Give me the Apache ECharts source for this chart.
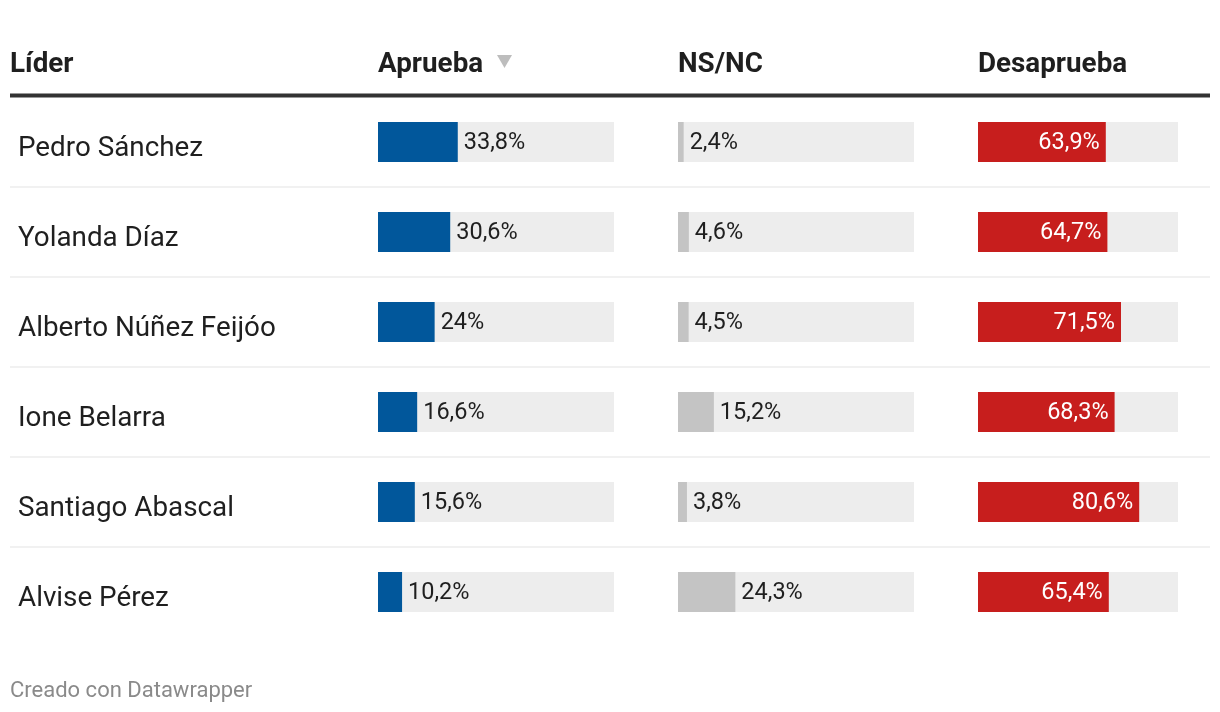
<!DOCTYPE html>
<html>
<head>
<meta charset="utf-8">
<script src="https://cdn.jsdelivr.net/npm/echarts@6/dist/echarts.min.js"></script>
<style>
html,body{margin:0;padding:0;background:#fff;}
#chart{width:1220px;height:712px;}
</style>
</head>
<body>
<div id="chart"></div>
<script>
const leaders = ['Pedro Sánchez', 'Yolanda Díaz', 'Alberto Núñez Feijóo', 'Ione Belarra', 'Santiago Abascal', 'Alvise Pérez'];
const aprueba = [33.8, 30.6, 24, 16.6, 15.6, 10.2];
const nsnc = [2.4, 4.6, 4.5, 15.2, 3.8, 24.3];
const desaprueba = [63.9, 64.7, 71.5, 68.3, 80.6, 65.4];
const headers = ['Líder', 'Aprueba', 'NS/NC', 'Desaprueba'];
const footer = 'Creado con Datawrapper';

const FONT = 'Roboto, "Noto Sans", sans-serif';
const fmt = p => String(p.value).replace('.', ',') + '%';

const chart = echarts.init(document.getElementById('chart'), null, {renderer: 'canvas'});

const colLeft = [378, 678, 978];
const colWidth = [236, 236, 200];
const TOP = 97, HEIGHT = 540;

const grids = colLeft.map((l, i) => ({left: l, top: TOP, width: colWidth[i], height: HEIGHT}));
grids.push({left: 10, top: TOP, width: 1200, height: HEIGHT});       // separators
grids.push({left: 10, top: TOP + 7.5, width: 1200, height: HEIGHT}); // leader names

const xAxes = grids.map((g, i) => ({gridIndex: i, type: 'value', min: 0, max: 100, show: false}));
const yAxes = [0, 1, 2].map(i => ({gridIndex: i, type: 'category', data: leaders, inverse: true, show: false}));
yAxes.push({
  gridIndex: 3, type: 'category', data: leaders, inverse: true,
  axisLine: {show: false}, axisTick: {show: false}, axisLabel: {show: false},
  splitLine: {show: true, showMinLine: false, showMaxLine: false, lineStyle: {color: '#ececec', width: 1.5}}
});
yAxes.push({
  gridIndex: 4, type: 'category', data: leaders, inverse: true,
  axisLine: {show: false}, axisTick: {show: false}, splitLine: {show: false},
  axisLabel: {inside: true, margin: 8, fontSize: 27.8, color: '#1f1f1f', fontFamily: FONT}
});

const colors = ['#01579b', '#c4c4c4', '#c71e1d'];
const datas = [aprueba, nsnc, desaprueba];
const series = datas.map((d, i) => ({
  type: 'bar', xAxisIndex: i, yAxisIndex: i, data: d, barWidth: 40,
  itemStyle: {color: colors[i]},
  showBackground: true, backgroundStyle: {color: '#ededed'},
  label: {
    show: true,
    position: i === 2 ? 'insideRight' : 'right',
    distance: 6,
    offset: [0, 1.5],
    formatter: fmt,
    fontSize: 23.5,
    fontFamily: FONT,
    color: i === 2 ? '#ffffff' : '#1f1f1f'
  }
}));

const headerX = [10].concat(colLeft);
const graphic = headers.map((h, i) => ({
  type: 'text', x: headerX[i], y: 65, z: 100,
  style: {text: h, fontSize: 27.8, fontWeight: 'bold', fontFamily: FONT, fill: '#1f1f1f', verticalAlign: 'middle'}
}));
graphic.push({type: 'polygon', z: 100, shape: {points: [[497, 55], [512, 55], [504.5, 68]]}, style: {fill: '#bdbdbd'}});
graphic.push({type: 'line', z: 100, shape: {x1: 10, y1: 95.5, x2: 1210, y2: 95.5}, style: {stroke: '#333333', lineWidth: 4}});
graphic.push({type: 'text', x: 10, y: 691, z: 100, style: {text: footer, fontSize: 22, fontFamily: FONT, fill: '#8a8a8a', verticalAlign: 'middle'}});

chart.setOption({
  animation: false,
  textStyle: {fontFamily: FONT},
  grid: grids,
  xAxis: xAxes,
  yAxis: yAxes,
  series: series,
  graphic: graphic
});
</script>
</body>
</html>
